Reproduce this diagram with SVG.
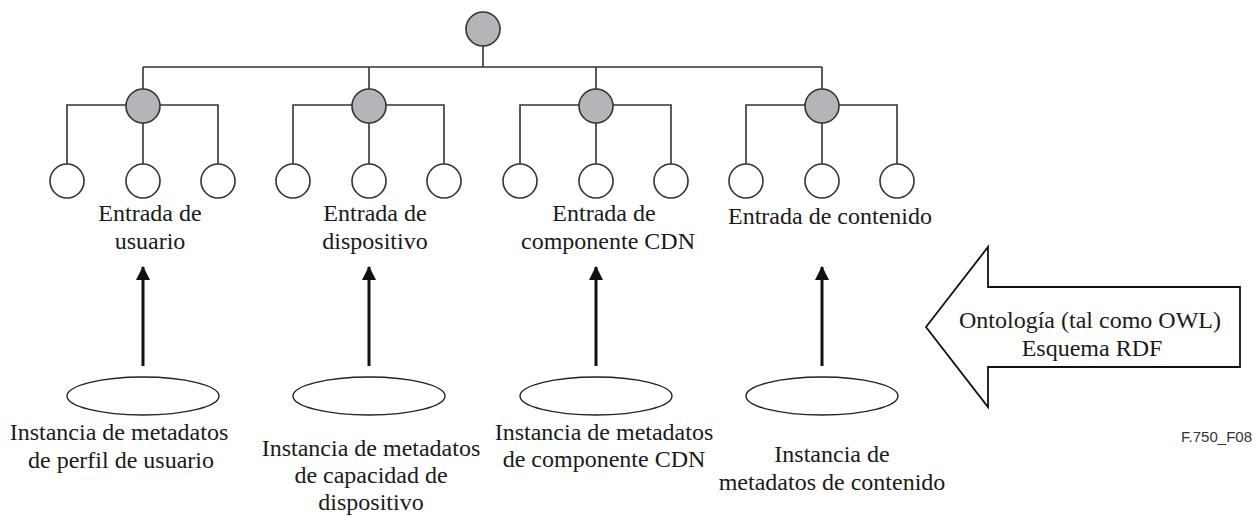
<svg xmlns="http://www.w3.org/2000/svg" width="1260" height="517" viewBox="0 0 1260 517" font-family="Liberation Serif">
<defs>
<marker id="ah" markerWidth="14" markerHeight="14" viewBox="0 0 14 14" refX="13" refY="7" orient="auto" markerUnits="userSpaceOnUse">
<path d="M0,0 L14,7 L0,14 z" fill="#111"/>
</marker>
</defs>
<g id="connectors">
<g stroke="#333" stroke-width="1.6" fill="none">
<path d="M483,46 V67 M143,67 H822 M143,67 V89 M369,67 V89 M596,67 V89 M822,67 V89"/>
<path d="M67,164 V105 H218 V164 M143,123 V164"/>
<path d="M293,164 V105 H444 V164 M369,123 V164"/>
<path d="M520,164 V105 H671 V164 M596,123 V164"/>
<path d="M746,164 V105 H897 V164 M822,123 V164"/>
</g>
<g stroke="#111" stroke-width="3" fill="none">
<line x1="143" y1="366" x2="143" y2="267" marker-end="url(#ah)"/>
<line x1="369" y1="366" x2="369" y2="267" marker-end="url(#ah)"/>
<line x1="596" y1="366" x2="596" y2="267" marker-end="url(#ah)"/>
<line x1="822" y1="366" x2="822" y2="267" marker-end="url(#ah)"/>
</g>
</g>
<g id="root"><circle fill="#b4b5b8" stroke="#333" stroke-width="1.6" cx="483" cy="29" r="17"/></g>
<g id="usuario">
<circle fill="#b4b5b8" stroke="#333" stroke-width="1.6" cx="143" cy="106" r="17"/>
<circle fill="#fff" stroke="#333" stroke-width="1.6" cx="67" cy="181" r="17"/><circle fill="#fff" stroke="#333" stroke-width="1.6" cx="143" cy="181" r="17"/><circle fill="#fff" stroke="#333" stroke-width="1.6" cx="218" cy="181" r="17"/>
<text style="font-family:'Liberation Serif'" font-size="24" fill="#1a1a1a" text-anchor="middle" x="150" y="221">Entrada de</text>
<text style="font-family:'Liberation Serif'" font-size="24" fill="#1a1a1a" text-anchor="middle" x="150" y="249">usuario</text>
</g>
<g id="dispositivo">
<circle fill="#b4b5b8" stroke="#333" stroke-width="1.6" cx="369" cy="106" r="17"/>
<circle fill="#fff" stroke="#333" stroke-width="1.6" cx="293" cy="181" r="17"/><circle fill="#fff" stroke="#333" stroke-width="1.6" cx="369" cy="181" r="17"/><circle fill="#fff" stroke="#333" stroke-width="1.6" cx="444" cy="181" r="17"/>
<text style="font-family:'Liberation Serif'" font-size="24" fill="#1a1a1a" text-anchor="middle" x="375" y="221">Entrada de</text>
<text style="font-family:'Liberation Serif'" font-size="24" fill="#1a1a1a" text-anchor="middle" x="375" y="249">dispositivo</text>
</g>
<g id="cdn">
<circle fill="#b4b5b8" stroke="#333" stroke-width="1.6" cx="596" cy="106" r="17"/>
<circle fill="#fff" stroke="#333" stroke-width="1.6" cx="520" cy="181" r="17"/><circle fill="#fff" stroke="#333" stroke-width="1.6" cx="596" cy="181" r="17"/><circle fill="#fff" stroke="#333" stroke-width="1.6" cx="671" cy="181" r="17"/>
<text style="font-family:'Liberation Serif'" font-size="24" fill="#1a1a1a" text-anchor="middle" x="604" y="221">Entrada de</text>
<text style="font-family:'Liberation Serif'" font-size="24" fill="#1a1a1a" text-anchor="middle" x="608" y="249">componente CDN</text>
</g>
<g id="contenido">
<circle fill="#b4b5b8" stroke="#333" stroke-width="1.6" cx="822" cy="106" r="17"/>
<circle fill="#fff" stroke="#333" stroke-width="1.6" cx="746" cy="181" r="17"/><circle fill="#fff" stroke="#333" stroke-width="1.6" cx="822" cy="181" r="17"/><circle fill="#fff" stroke="#333" stroke-width="1.6" cx="897" cy="181" r="17"/>
<text style="font-family:'Liberation Serif'" font-size="24" fill="#1a1a1a" text-anchor="middle" x="830" y="224">Entrada de contenido</text>
</g>
<g id="inst-usuario">
<ellipse fill="#fff" stroke="#222" stroke-width="1.4" cx="143" cy="396" rx="76" ry="19"/>
<text style="font-family:'Liberation Serif'" font-size="24" fill="#1a1a1a" text-anchor="middle" x="119" y="440">Instancia de metadatos</text>
<text style="font-family:'Liberation Serif'" font-size="24" fill="#1a1a1a" text-anchor="middle" x="121" y="468">de perfil de usuario</text>
</g>
<g id="inst-dispositivo">
<ellipse fill="#fff" stroke="#222" stroke-width="1.4" cx="369" cy="396" rx="76" ry="19"/>
<text style="font-family:'Liberation Serif'" font-size="24" fill="#1a1a1a" text-anchor="middle" x="371" y="456">Instancia de metadatos</text>
<text style="font-family:'Liberation Serif'" font-size="24" fill="#1a1a1a" text-anchor="middle" x="371" y="483">de capacidad de</text>
<text style="font-family:'Liberation Serif'" font-size="24" fill="#1a1a1a" text-anchor="middle" x="371" y="510">dispositivo</text>
</g>
<g id="inst-cdn">
<ellipse fill="#fff" stroke="#222" stroke-width="1.4" cx="596" cy="396" rx="76" ry="19"/>
<text style="font-family:'Liberation Serif'" font-size="24" fill="#1a1a1a" text-anchor="middle" x="604" y="440">Instancia de metadatos</text>
<text style="font-family:'Liberation Serif'" font-size="24" fill="#1a1a1a" text-anchor="middle" x="604" y="467">de componente CDN</text>
</g>
<g id="inst-contenido">
<ellipse fill="#fff" stroke="#222" stroke-width="1.4" cx="822" cy="396" rx="76" ry="19"/>
<text style="font-family:'Liberation Serif'" font-size="24" fill="#1a1a1a" text-anchor="middle" x="832" y="462">Instancia de</text>
<text style="font-family:'Liberation Serif'" font-size="24" fill="#1a1a1a" text-anchor="middle" x="832" y="490">metadatos de contenido</text>
</g>
<g id="ontologia">
<path d="M926,327 L988,247 V287 H1240 V367 H988 V407 Z" fill="#fff" stroke="#111" stroke-width="1.8"/>
<text style="font-family:'Liberation Serif'" font-size="24" fill="#1a1a1a" text-anchor="middle" x="1090" y="328">Ontología (tal como OWL)</text>
<text style="font-family:'Liberation Serif'" font-size="24" fill="#1a1a1a" text-anchor="middle" x="1092" y="356">Esquema RDF</text>
</g>
<text style="font-family:'Liberation Sans'" font-size="15" fill="#333" text-anchor="end" x="1252" y="442">F.750_F08</text>
</svg>
